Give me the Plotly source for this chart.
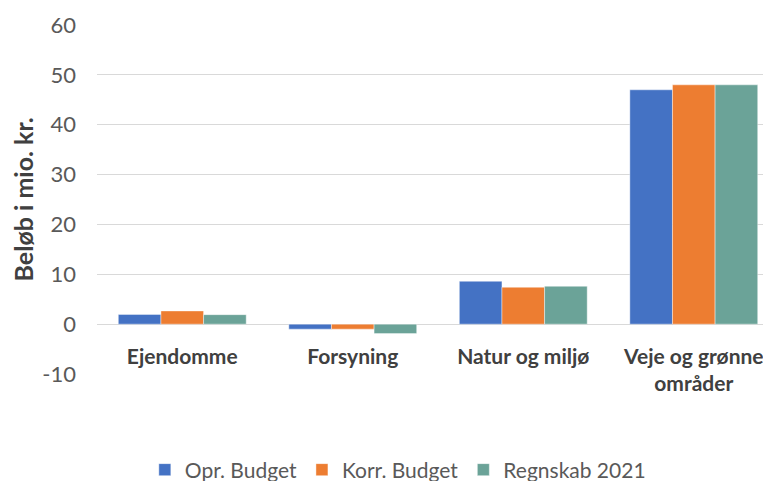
import plotly.graph_objects as go

categories = ["Ejendomme", "Forsyning", "Natur og miljø", "Veje og grønne<br>områder"]
opr_budget = [1.95, -1.0, 8.6, 47.0]
korr_budget = [2.65, -1.0, 7.4, 48.0]
regnskab_2021 = [1.9, -1.9, 7.6, 48.0]
series_names = ["Opr. Budget", "Korr. Budget", "Regnskab 2021"]
colors = ["#4472C4", "#ED7D31", "#6BA398"]
y_ticks = [-10, 0, 10, 20, 30, 40, 50, 60]
y_ticktext = ["-10", "0", "10", "20", "30", "40", "50", "60"]
y_title = "Beløb i mio. kr."

FONT = "Lato, Open Sans, sans-serif"

fig = go.Figure()
for name, vals, col in zip(series_names, [opr_budget, korr_budget, regnskab_2021], colors):
    fig.add_trace(go.Bar(
        x=categories, y=vals, name=name,
        marker=dict(color=col, line=dict(color="rgba(255,255,255,0.6)", width=0.7)),
    ))

fig.add_annotation(
    text="<b>" + y_title + "</b>", textangle=-90,
    xref="paper", yref="paper", x=-0.1100, y=0.5,
    xanchor="center", yanchor="middle", showarrow=False, borderpad=0,
    font=dict(family=FONT, size=25, color="#404040"),
)

fig.update_layout(
    width=771, height=481,
    margin=dict(l=89, r=9, t=17, b=115, autoexpand=False),
    paper_bgcolor="white", plot_bgcolor="white",
    barmode="group", bargap=0.25, bargroupgap=0,
    font=dict(family=FONT, color="#595959", size=22),
    legend=dict(orientation="h", x=0.447, xanchor="center", y=-0.275, yanchor="middle",
                font=dict(size=21, color="#595959"), itemwidth=30, traceorder="normal"),
    xaxis=dict(
        anchor="free", position=1/7, automargin=False,
        range=[-0.5, 3.447],
        showgrid=False, showline=False, ticks="",
        ticklabelstandoff=18,
        tickfont=dict(family=FONT, size=21, color="#404040", weight="bold"),
    ),
    yaxis=dict(
        range=[-10, 60], tickvals=y_ticks, ticktext=y_ticktext, automargin=False,
        showgrid=True, gridcolor="#D9D9D9", gridwidth=1,
        zeroline=True, zerolinecolor="#D9D9D9", zerolinewidth=1,
        tickfont=dict(family=FONT, size=22, color="#595959"),
        ticklabelstandoff=20,
    ),
)

fig.write_html("out.html")
